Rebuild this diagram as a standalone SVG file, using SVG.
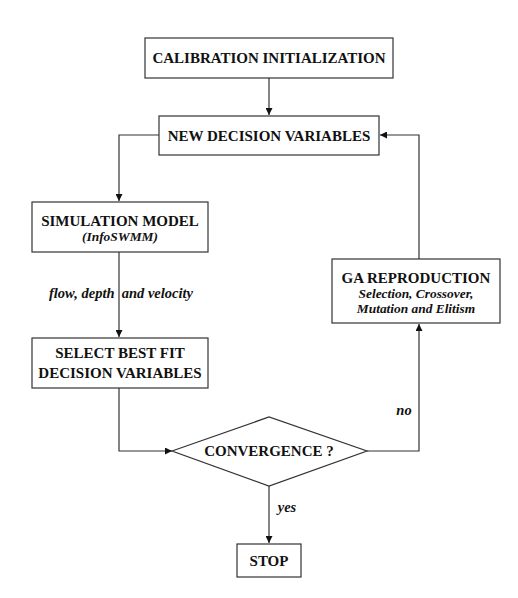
<svg xmlns="http://www.w3.org/2000/svg" width="518" height="598" viewBox="0 0 518 598">
<style>
.box{fill:#fff;stroke:#333;stroke-width:1.2}
.t{font-family:"Liberation Serif","Times New Roman",serif;font-weight:bold;font-size:15px;fill:#111;text-anchor:middle}
.i{font-family:"Liberation Serif","Times New Roman",serif;font-weight:bold;font-style:italic;font-size:14.5px;fill:#111;text-anchor:middle}
.s{font-family:"Liberation Serif","Times New Roman",serif;font-weight:bold;font-style:italic;font-size:13.4px;fill:#111;text-anchor:middle}
.c{fill:none;stroke:#333;stroke-width:1.2}
</style>
<defs>
<marker id="ah" viewBox="0 0 10 10" refX="10" refY="5" markerWidth="7" markerHeight="7" orient="auto" markerUnits="userSpaceOnUse">
<path d="M0,0 L10,5 L0,10 z" fill="#111"/>
</marker>
</defs>
<rect width="518" height="598" fill="#fff"/>
<g id="connectors">
<path class="c" d="M269,78 V115" marker-end="url(#ah)"/>
<path class="c" d="M159,135 H119 V201" marker-end="url(#ah)"/>
<path class="c" d="M119,252 V337" marker-end="url(#ah)"/>
<path class="c" d="M119,388 V451 H172" marker-end="url(#ah)"/>
<path class="c" d="M367,451 H419 V324" marker-end="url(#ah)"/>
<path class="c" d="M419,259 V135 H380" marker-end="url(#ah)"/>
<path class="c" d="M269,486 V543" marker-end="url(#ah)"/>
<text class="i" x="121" y="298">flow, depth&#160; and velocity</text>
<text class="i" x="404" y="415">no</text>
<text class="i" x="287" y="512">yes</text>
</g>
<g id="calib">
<rect class="box" x="145" y="38" width="248" height="40"/>
<text class="t" x="269" y="63">CALIBRATION INITIALIZATION</text>
</g>
<g id="newvars">
<rect class="box" x="159" y="116" width="220" height="39"/>
<text class="t" x="269" y="141">NEW DECISION VARIABLES</text>
</g>
<g id="sim">
<rect class="box" x="32" y="202" width="176" height="50"/>
<text class="t" x="120" y="226">SIMULATION MODEL</text>
<text class="s" x="120" y="241">(InfoSWMM)</text>
</g>
<g id="select">
<rect class="box" x="32" y="338" width="176" height="50"/>
<text class="t" x="120" y="358">SELECT BEST FIT</text>
<text class="t" x="120" y="378">DECISION VARIABLES</text>
</g>
<g id="ga">
<rect class="box" x="332" y="259" width="168" height="64"/>
<text class="t" x="416" y="283">GA REPRODUCTION</text>
<text class="s" x="416" y="298">Selection, Crossover,</text>
<text class="s" x="416" y="313">Mutation and Elitism</text>
</g>
<g id="conv">
<polygon class="box" points="172,451 269,417 367,451 269,486"/>
<text class="t" x="269" y="456">CONVERGENCE ?</text>
</g>
<g id="stop">
<rect class="box" x="237" y="544" width="64" height="33"/>
<text class="t" x="269" y="566">STOP</text>
</g>
</svg>
